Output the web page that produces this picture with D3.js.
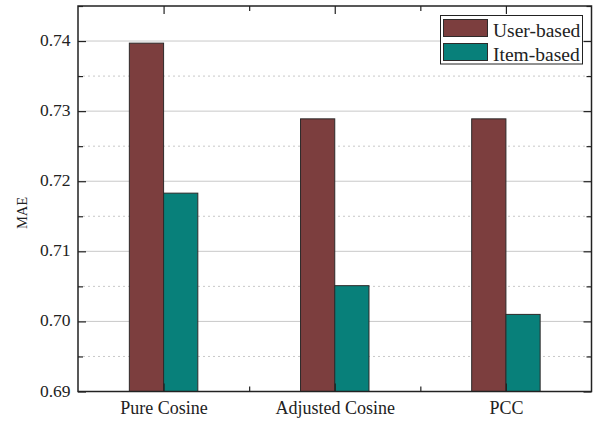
<!DOCTYPE html>
<html>
<head>
<meta charset="utf-8">
<script src="https://cdn.jsdelivr.net/npm/d3@7"></script>
<style>
  body { margin: 0; background: #fff; }
  svg { display: block; }
</style>
</head>
<body>
<svg id="chart" width="593" height="421"></svg>
<script>
// MAE of each similarity measure, user-based vs item-based CF
const categories = ["Pure Cosine", "Adjusted Cosine", "PCC"];
const seriesNames = ["User-based", "Item-based"];
const userBased = [0.7397, 0.7289, 0.7289];
const itemBased = [0.7183, 0.7051, 0.7010];
const yTicks = [0.69, 0.70, 0.71, 0.72, 0.73, 0.74];
const yMinorTicks = [0.695, 0.705, 0.715, 0.725, 0.735, 0.745];
const colors = ["#7c3e3e", "#08807a"];

const serif = "'Liberation Serif', 'Times New Roman', Times, serif";
const svg = d3.select("#chart").attr("font-family", serif);
const margin = { left: 78, right: 1.5, top: 6, bottom: 29.5 };
const W = 593, H = 421;
const x0 = margin.left, x1 = W - margin.right;
const yTop = margin.top, yBot = H - margin.bottom;

const x = d3.scaleBand().domain(categories).range([x0, x1]).paddingInner(0).paddingOuter(0);
const xs = d3.scaleBand().domain(seriesNames).range([0.3 * x.bandwidth(), 0.7 * x.bandwidth()]);
const y = d3.scaleLinear().domain([0.69, 0.745]).range([yBot, yTop]);

// grid
const grid = svg.append("g");
grid.selectAll("line.major").data(yTicks.slice(1)).join("line")
  .attr("x1", x0).attr("x2", x1)
  .attr("y1", d => y(d)).attr("y2", d => y(d))
  .attr("stroke", "#c8c8c8").attr("stroke-width", 1);
grid.selectAll("line.minor").data(yMinorTicks.slice(0, -1)).join("line")
  .attr("x1", x0).attr("x2", x1)
  .attr("y1", d => y(d)).attr("y2", d => y(d))
  .attr("stroke", "#c8c8c8").attr("stroke-width", 1).attr("stroke-dasharray", "2,3");

// bars
const series = [userBased, itemBased];
const groups = svg.append("g").selectAll("g").data(series).join("g")
  .attr("fill", (d, i) => colors[i]);
groups.each(function (vals, si) {
  d3.select(this).selectAll("rect").data(vals).join("rect")
    .attr("x", (d, i) => x(categories[i]) + xs(seriesNames[si]))
    .attr("width", xs.bandwidth())
    .attr("y", d => y(d))
    .attr("height", d => y(0.69) - y(d))
    .attr("stroke", "#2e2a2a").attr("stroke-width", 1);
});

// axes (ticks inward on all sides)
const axisColor = "#222";
const leftAxis = svg.append("g").attr("transform", `translate(${x0},0)`)
  .call(d3.axisRight(y).tickValues(yTicks).tickSize(8).tickFormat(""));
leftAxis.append("g").call(d3.axisRight(y).tickValues(yMinorTicks).tickSize(5).tickFormat(""));
const rightAxis = svg.append("g").attr("transform", `translate(${x1},0)`)
  .call(d3.axisLeft(y).tickValues(yTicks).tickSize(8).tickFormat(""));
rightAxis.append("g").call(d3.axisLeft(y).tickValues(yMinorTicks).tickSize(5).tickFormat(""));

const xc = d => x(d) + x.bandwidth() / 2;
const xMinor = categories.slice(1).map(c => x(c));
const xPos = d3.scaleLinear().domain([x0, x1]).range([x0, x1]);
const bottomAxis = svg.append("g").attr("transform", `translate(0,${yBot})`)
  .call(d3.axisTop(xPos).tickValues(categories.map(xc)).tickSize(8).tickFormat(""));
bottomAxis.append("g").call(d3.axisTop(xPos).tickValues(xMinor).tickSize(5).tickFormat(""));
const topAxis = svg.append("g").attr("transform", `translate(0,${yTop})`)
  .call(d3.axisBottom(xPos).tickValues(categories.map(xc)).tickSize(8).tickFormat(""));
topAxis.append("g").call(d3.axisBottom(xPos).tickValues(xMinor).tickSize(5).tickFormat(""));

svg.selectAll(".domain").remove();
svg.selectAll(".tick line").attr("stroke", axisColor).attr("stroke-width", 1.2);

// frame
svg.append("rect").attr("x", x0).attr("y", yTop)
  .attr("width", x1 - x0).attr("height", yBot - yTop)
  .attr("fill", "none").attr("stroke", axisColor).attr("stroke-width", 1.5);

// tick labels
const txt = sel => sel.attr("font-family", serif).attr("fill", "#222");
svg.append("g").selectAll("text").data(yTicks).join("text")
  .call(txt)
  .attr("x", x0 - 7.5).attr("y", d => y(d) + 5)
  .attr("text-anchor", "end").attr("font-size", 17.5)
  .text(d => d3.format(".2f")(d));
svg.append("g").selectAll("text").data(categories).join("text")
  .call(txt)
  .attr("x", d => xc(d) + 0.5).attr("y", 414)
  .attr("text-anchor", "middle").attr("font-size", 18)
  .text(d => d);

// y title
svg.append("text").call(txt)
  .attr("transform", `translate(27,213) rotate(-90)`)
  .attr("text-anchor", "middle").attr("font-size", 14.5)
  .text("MAE");

// legend
const lg = svg.append("g");
lg.append("rect").attr("x", 440.5).attr("y", 15.5).attr("width", 142).attr("height", 48.5)
  .attr("fill", "#fff").attr("stroke", "#222").attr("stroke-width", 1);
seriesNames.forEach((name, i) => {
  lg.append("rect").attr("x", 443.5).attr("y", 19.5 + i * 24).attr("width", 44).attr("height", 17)
    .attr("fill", colors[i]).attr("stroke", "#2e2a2a").attr("stroke-width", 1);
  lg.append("text").call(txt).attr("x", 493).attr("y", 36.5 + i * 24)
    .attr("font-size", 19.5).text(name);
});
</script>
</body>
</html>
